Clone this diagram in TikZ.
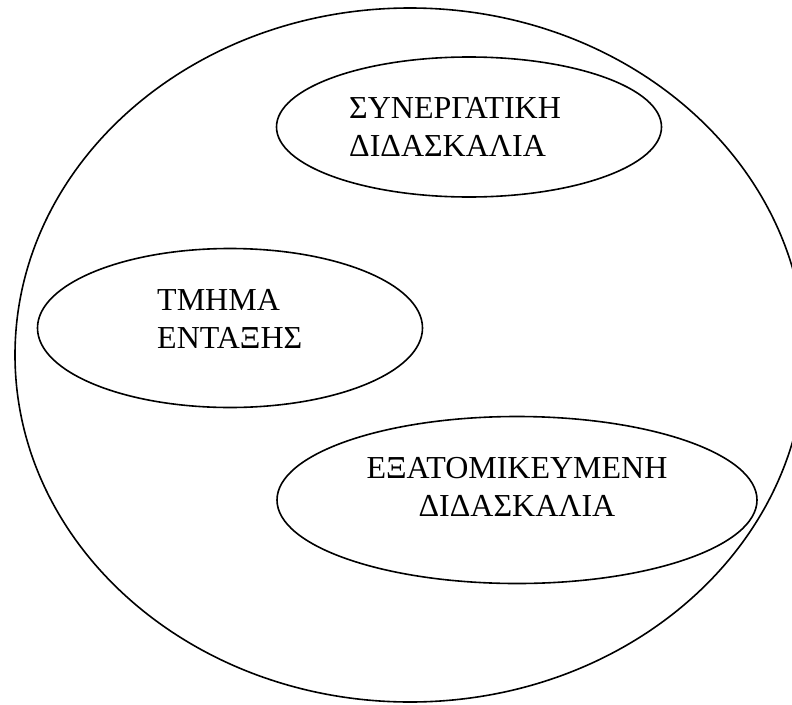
\documentclass[tikz,border=0pt]{standalone}
\usepackage{fontspec}
\setmainfont{Liberation Serif}
\usetikzlibrary{shapes.geometric}

\begin{document}
\begin{tikzpicture}[line cap=round,line join=round,x=1pt,y=-1pt,
    oval/.style={draw=black,line width=1.6pt,ellipse,inner sep=0pt},
    lbl/.style={inner sep=0pt,font=\fontsize{32}{37.5}\selectfont}]
            \useasboundingbox (0,0) rectangle (792,704);
            \clip (0,0) rectangle (792,704);
            \node [oval,minimum width=790pt,minimum height=694pt] (olo) at (410,355) {};
            \node [oval,minimum width=385pt,minimum height=140pt] (syn) at (469,127) {};
            \node [oval,minimum width=385pt,minimum height=159pt] (tm) at (230,328) {};
            \node [oval,minimum width=480pt,minimum height=167pt] (ex) at (517,500) {};
            \node [lbl,anchor=west,align=left] (syntxt) at (349,127) {ΣΥΝΕΡΓΑΤΙΚΗ\\ΔΙΔΑΣΚΑΛΙΑ};
            \node [lbl,anchor=west,align=left] (tmtxt) at (157,319) {ΤΜΗΜΑ\\ΕΝΤΑΞΗΣ};
            \node [lbl,align=center] (extxt) at (517,487) {ΕΞΑΤΟΜΙΚΕΥΜΕΝΗ\\ΔΙΔΑΣΚΑΛΙΑ};
\end{tikzpicture}
\end{document}
